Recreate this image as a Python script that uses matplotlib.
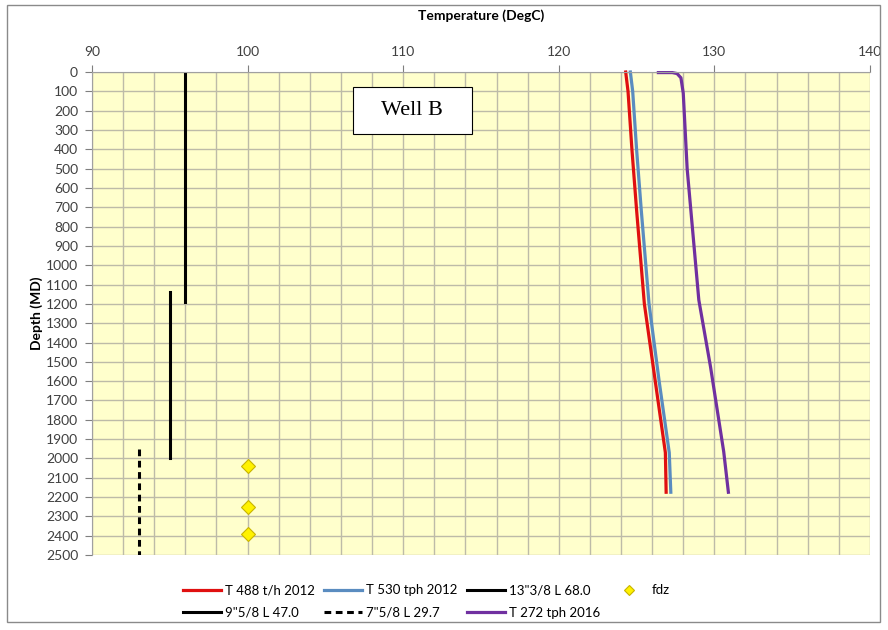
import matplotlib.pyplot as plt
from matplotlib.patches import Rectangle

# temperature logs (depth in m MD, temperature in degC)
red_depth = [0, 100, 400, 714, 1200, 1600, 1970, 2175]
red_temp = [124.3, 124.45, 124.7, 125.0, 125.5, 126.2, 126.85, 126.9]

blue_depth = [0, 100, 400, 714, 1200, 1600, 1970, 2175]
blue_temp = [124.6, 124.75, 125.0, 125.3, 125.8, 126.45, 127.1, 127.2]

purple_depth = [3, 3, 8, 30, 110, 500, 1180, 1525, 1965, 2175]
purple_temp = [126.4, 127.3, 127.6, 127.85, 128.0, 128.25, 129.0, 129.75, 130.6, 130.9]

# casings
c1_temp, c1_depth = [96, 96], [0, 1190]
c2_temp, c2_depth = [95, 95], [1140, 2000]
c3_temp, c3_depth = [93, 93], [1950, 2500]

# feed zones
fdz_temp = [100, 100, 100]
fdz_depth = [2040, 2250, 2390]

plt.rcParams['font.family'] = ['Lato', 'DejaVu Sans']

fig = plt.figure(figsize=(8.88, 6.3), dpi=100)
ax = fig.add_axes([0.1036, 0.119, 0.8761, 0.7667])
ax.set_facecolor('#FFFFCC')

l_red, = ax.plot(red_temp, red_depth, color='#E01010', lw=2.3, clip_on=False)
l_blue, = ax.plot(blue_temp, blue_depth, color='#5A8CC0', lw=2.3, clip_on=False)
l_c1, = ax.plot(c1_temp, c1_depth, color='black', lw=2.2)
l_fdz, = ax.plot(fdz_temp, fdz_depth, ls='none', marker='D', ms=7,
                 markerfacecolor='#FFF200', markeredgecolor='#C8B400', mew=0.8)
l_c2, = ax.plot(c2_temp, c2_depth, color='black', lw=2.2)
l_c3, = ax.plot(c3_temp, c3_depth, color='black', lw=2.2, ls=(0, (2.2, 1.5)))
l_purple, = ax.plot(purple_temp, purple_depth, color='#7030A0', lw=2.3, clip_on=False)

ax.set_xlim(90, 140)
ax.set_ylim(2500, 0)
ax.set_xticks(range(90, 141, 10))
ax.set_xticks(range(90, 141, 2), minor=True)
ax.set_yticks(range(0, 2501, 100))
ax.xaxis.tick_top()
ax.xaxis.set_label_position('top')
ax.grid(True, which='both', color='#BDBBA8', lw=1.0)
ax.set_axisbelow(True)
ax.tick_params(axis='x', which='minor', length=0)
ax.tick_params(axis='both', which='major', labelsize=10, colors='#7f7f7f',
               labelcolor='#404040', length=5, pad=5)
for s in ax.spines.values():
    s.set_visible(False)
ax.spines['left'].set_visible(True)
ax.spines['left'].set_color('#a0a0a0')
ax.spines['top'].set_visible(True)
ax.spines['top'].set_color('#a0a0a0')

ax.set_xlabel('Temperature (DegC)', fontsize=10, fontweight='bold', labelpad=19)
ax.set_ylabel('Depth (MD)', fontsize=10, fontweight='bold', labelpad=2)

# "Well B" label box
ax.add_patch(Rectangle((106.75, 80), 7.65, 240, facecolor='white', edgecolor='black',
                       lw=0.8, zorder=5))
ax.text(110.57, 200, 'Well B', ha='center', va='center', fontsize=16,
        family='Liberation Serif', zorder=6)

handles = [l_red, l_c2, l_blue, l_c3, l_c1, l_purple, l_fdz]
labels = ['T 488 t/h 2012', '9"5/8 L 47.0', 'T 530 tph 2012', '7"5/8 L 29.7',
          '13"3/8 L 68.0', 'T 272 tph 2016', 'fdz']
fig.legend(handles, labels, ncol=4, loc='center', bbox_to_anchor=(0.48, 0.045),
           frameon=False, fontsize=9.5, handlelength=2.9, handletextpad=0.3,
           columnspacing=0.7, labelspacing=0.8, markerscale=0.8)

fig.add_artist(Rectangle((0.008, 0.012), 0.983, 0.98, transform=fig.transFigure,
                         fill=False, edgecolor='#8a8a8a', lw=1.0))

fig.savefig('out.png', dpi=100)
